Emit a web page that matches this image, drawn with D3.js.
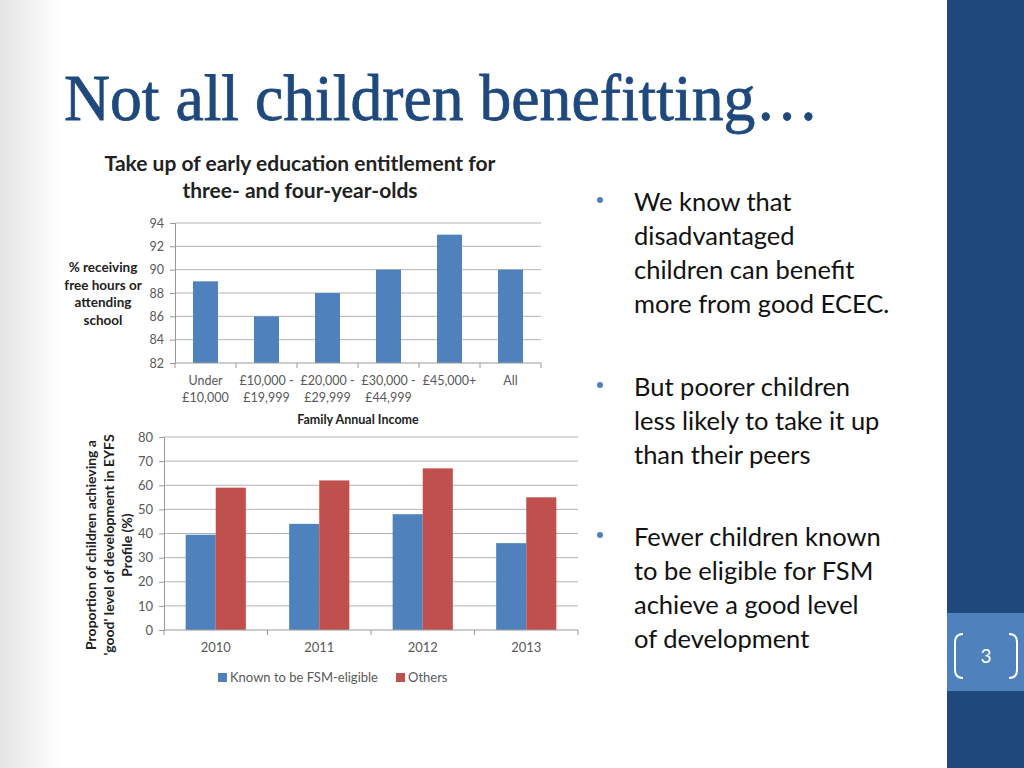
<!DOCTYPE html>
<html>
<head>
<meta charset="utf-8">
<script src="https://cdn.jsdelivr.net/npm/d3@7"></script>
<style>
  html, body { margin: 0; padding: 0; background: #fff; }
  svg { display: block; }
</style>
</head>
<body>
<svg id="slide" width="1024" height="768"></svg>
<script>
// take-up chart
const incomeBands = [["Under", "£10,000"], ["£10,000 -", "£19,999"], ["£20,000 -", "£29,999"],
                     ["£30,000 -", "£44,999"], ["£45,000+"], ["All"]];
const takeUp = [89, 86, 88, 90, 93, 90];
const takeUpTicks = [82, 84, 86, 88, 90, 92, 94];

// EYFS chart
const years = ["2010", "2011", "2012", "2013"];
const fsmEligible = [39.5, 44, 48, 36];
const others = [59, 62, 67, 55];
const eyfsTicks = [0, 10, 20, 30, 40, 50, 60, 70, 80];
const seriesNames = ["Known to be FSM-eligible", "Others"];

const bullets = [
    ["We know that", "disadvantaged", "children can benefit", "more from good ECEC."],
    ["But poorer children", "less likely to take it up", "than their peers"],
    ["Fewer children known", "to be eligible for FSM", "achieve a good level", "of development"]
];

const BLUE = '#4F81BD';
const RED = '#C0504D';
const GRID = '#b3b3b3';
const TICK_TXT = '#595959';
const FONT = 'Lato, "Open Sans", sans-serif';

const svg = d3.select('#slide');

// background: soft grey fade on the left edge
const lg = svg.append('defs').append('linearGradient').attr('id', 'fade')
    .attr('x1', 0).attr('x2', 1).attr('y1', 0).attr('y2', 0);
lg.append('stop').attr('offset', 0).attr('stop-color', '#e4e4e4');
lg.append('stop').attr('offset', 1).attr('stop-color', '#ffffff');
svg.append('rect').attr('x', 0).attr('y', 0).attr('width', 947).attr('height', 768).attr('fill', '#fff');
svg.append('rect').attr('x', 0).attr('y', 0).attr('width', 60).attr('height', 768).attr('fill', 'url(#fade)');

// right side bar
svg.append('rect').attr('x', 947).attr('y', 0).attr('width', 77).attr('height', 768).attr('fill', '#1F497D');
svg.append('rect').attr('x', 947).attr('y', 613).attr('width', 77).attr('height', 78).attr('fill', '#4F81BD');
svg.append('path')
    .attr('d', 'M963,634 Q955,634 955,642 L955,670 Q955,678 963,678')
    .attr('fill', 'none').attr('stroke', '#fff').attr('stroke-width', 2);
svg.append('path')
    .attr('d', 'M1009,634 Q1017,634 1017,642 L1017,670 Q1017,678 1009,678')
    .attr('fill', 'none').attr('stroke', '#fff').attr('stroke-width', 2);
svg.append('text').text('3')
    .attr('x', 986).attr('y', 663).attr('text-anchor', 'middle')
    .attr('font-family', FONT).attr('font-size', 19).attr('fill', '#fff');

// slide title
svg.append('text').text('Not all children benefitting…')
    .attr('x', 64).attr('y', 120)
    .attr('font-family', '"Liberation Serif", "DejaVu Serif", serif')
    .attr('font-size', 66)
    .attr('textLength', 755).attr('lengthAdjust', 'spacingAndGlyphs')
    .attr('fill', '#1F497D').attr('stroke', '#1F497D').attr('stroke-width', 0.8);

// bullets
const bulletStarts = [202, 387, 537];
bullets.forEach((lines, i) => {
    const y0 = bulletStarts[i];
    svg.append('circle').attr('cx', 600).attr('cy', y0 - 2).attr('r', 3).attr('fill', '#4F81BD');
    lines.forEach((ln, j) => {
        svg.append('text').text(ln)
            .attr('x', 634).attr('y', y0 + 9 + j * 34)
            .attr('font-family', FONT).attr('font-size', 25.5).attr('fill', '#111');
    });
});

// ---------- top chart ----------
const topBox = {left: 175, right: 541, top: 223, bottom: 363};
const xTop = d3.scaleBand().domain(d3.range(takeUp.length)).range([topBox.left, topBox.right]).paddingInner(0.59).paddingOuter(0.295);
const xTopBand = d3.scaleBand().domain(d3.range(takeUp.length)).range([topBox.left, topBox.right]);
const yTop = d3.scaleLinear().domain([82, 94]).range([topBox.bottom, topBox.top]);

const gTop = svg.append('g');
gTop.selectAll('line.grid').data(takeUpTicks.slice(1)).join('line')
    .attr('x1', topBox.left).attr('x2', topBox.right)
    .attr('y1', d => yTop(d)).attr('y2', d => yTop(d))
    .attr('stroke', GRID).attr('stroke-width', 1);

gTop.selectAll('rect.bar').data(takeUp).join('rect')
    .attr('x', (d, i) => xTop(i)).attr('width', xTop.bandwidth())
    .attr('y', d => yTop(d)).attr('height', d => yTop(82) - yTop(d))
    .attr('fill', BLUE);

const yAxisTop = gTop.append('g').attr('transform', `translate(${topBox.left},0)`)
    .call(d3.axisLeft(yTop).tickValues(takeUpTicks).tickSize(5).tickPadding(6));
yAxisTop.select('.domain').attr('stroke', '#999');
yAxisTop.selectAll('.tick line').attr('stroke', '#999');
yAxisTop.selectAll('text').attr('font-family', FONT).attr('font-size', 12.5).attr('fill', TICK_TXT);

const xAxisTop = gTop.append('g').attr('transform', `translate(0,${topBox.bottom})`);
xAxisTop.append('line').attr('x1', topBox.left).attr('x2', topBox.right).attr('y1', 0).attr('y2', 0).attr('stroke', '#999');
xAxisTop.selectAll('line.t').data(d3.range(takeUp.length + 1)).join('line')
    .attr('x1', i => topBox.left + i * xTopBand.step()).attr('x2', i => topBox.left + i * xTopBand.step())
    .attr('y1', 0).attr('y2', 5).attr('stroke', '#999');
incomeBands.forEach((lines, i) => {
    lines.forEach((ln, j) => {
        xAxisTop.append('text').text(ln)
            .attr('x', xTopBand(i) + xTopBand.bandwidth() / 2).attr('y', 22 + j * 17)
            .attr('text-anchor', 'middle')
            .attr('font-family', FONT).attr('font-size', 12.5).attr('fill', TICK_TXT);
    });
});

svg.append('text').text('Family Annual Income')
    .attr('x', 358).attr('y', 424).attr('text-anchor', 'middle')
    .attr('font-family', FONT).attr('font-weight', 700).attr('font-size', 12.5).attr('fill', '#222');

['% receiving', 'free hours or', 'attending', 'school'].forEach((ln, j) => {
    svg.append('text').text(ln)
        .attr('x', 103).attr('y', 272 + j * 17.5).attr('text-anchor', 'middle')
        .attr('font-family', FONT).attr('font-weight', 700).attr('font-size', 13.5).attr('fill', '#222');
});

['Take up of early education entitlement for', 'three- and four-year-olds'].forEach((ln, j) => {
    svg.append('text').text(ln)
        .attr('x', 300).attr('y', 171 + j * 27).attr('text-anchor', 'middle')
        .attr('font-family', FONT).attr('font-weight', 700).attr('font-size', 21).attr('fill', '#222');
});

// ---------- bottom chart ----------
const bot = {left: 164, right: 578, top: 437, bottom: 630};
const xBot = d3.scaleBand().domain(years).range([bot.left, bot.right]);
const xSub = d3.scaleBand().domain([0, 1]).range([0, xBot.bandwidth()]).paddingOuter(0.72);
const yBot = d3.scaleLinear().domain([0, 80]).range([bot.bottom, bot.top]);

const gBot = svg.append('g');
gBot.selectAll('line.grid').data(eyfsTicks.slice(1)).join('line')
    .attr('x1', bot.left).attr('x2', bot.right)
    .attr('y1', d => yBot(d)).attr('y2', d => yBot(d))
    .attr('stroke', GRID).attr('stroke-width', 1);

const groups = [fsmEligible, others];
const colors = [BLUE, RED];
groups.forEach((vals, s) => {
    gBot.selectAll('rect.s' + s).data(vals).join('rect')
        .attr('x', (d, i) => xBot(years[i]) + xSub(s)).attr('width', xSub.bandwidth())
        .attr('y', d => yBot(d)).attr('height', d => yBot(0) - yBot(d))
        .attr('fill', colors[s]);
});

const yAxisBot = gBot.append('g').attr('transform', `translate(${bot.left},0)`)
    .call(d3.axisLeft(yBot).tickValues(eyfsTicks).tickSize(5).tickPadding(6));
yAxisBot.select('.domain').attr('stroke', '#999');
yAxisBot.selectAll('.tick line').attr('stroke', '#999');
yAxisBot.selectAll('text').attr('font-family', FONT).attr('font-size', 13).attr('fill', TICK_TXT);

const xAxisBot = gBot.append('g').attr('transform', `translate(0,${bot.bottom})`);
xAxisBot.append('line').attr('x1', bot.left).attr('x2', bot.right).attr('stroke', '#999');
xAxisBot.selectAll('line.t').data(d3.range(years.length + 1)).join('line')
    .attr('x1', i => bot.left + i * xBot.step()).attr('x2', i => bot.left + i * xBot.step())
    .attr('y1', 0).attr('y2', 5).attr('stroke', '#999');
xAxisBot.selectAll('text').data(years).join('text').text(d => d)
    .attr('x', d => xBot(d) + xBot.bandwidth() / 2).attr('y', 22)
    .attr('text-anchor', 'middle')
    .attr('font-family', FONT).attr('font-size', 13).attr('fill', TICK_TXT);

['Proportion of children achieving a', "'good' level of development in EYFS", 'Profile (%)'].forEach((ln, j) => {
    svg.append('text').text(ln)
        .attr('transform', `translate(${96 + j * 18},545) rotate(-90)`)
        .attr('text-anchor', 'middle')
        .attr('font-family', FONT).attr('font-weight', 700).attr('font-size', 14).attr('fill', '#222');
});

// legend
const legX = [218, 396];
seriesNames.forEach((name, s) => {
    svg.append('rect').attr('x', legX[s]).attr('y', 673).attr('width', 9).attr('height', 9).attr('fill', colors[s]);
    svg.append('text').text(name)
        .attr('x', legX[s] + 12).attr('y', 682)
        .attr('font-family', FONT).attr('font-size', 13).attr('fill', TICK_TXT);
});
</script>
</body>
</html>
